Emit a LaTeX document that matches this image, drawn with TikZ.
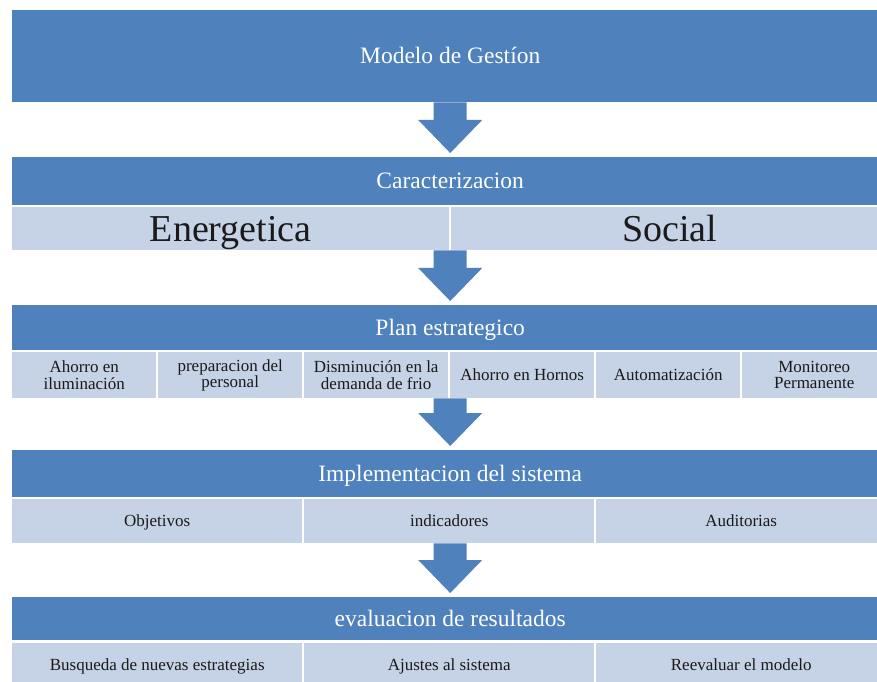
\documentclass[tikz,border=0pt]{standalone}
\usepackage{fontspec}
\setmainfont{Liberation Serif}
\usetikzlibrary{calc}
\definecolor{hdrblue}{HTML}{4F81BD}
\definecolor{cellblue}{HTML}{C6D2E6}
\definecolor{celltext}{HTML}{1A1A1A}
\tikzset{
  x=1pt, y=1pt,
  hdr/.style={fill=hdrblue, text=white, inner sep=0pt, anchor=north west, minimum width=876pt,
    font=\fontsize{23.5}{25}\selectfont, text height=15.6pt, text depth=0pt},
  cellbase/.style={fill=cellblue, text=celltext, inner sep=0pt, anchor=north west, align=center,
    font=\fontsize{17}{16.5}\selectfont},
  cell/.style={cellbase, text height=11.3pt, text depth=0pt},
  bigcell/.style={cellbase, font=\fontsize{38}{40}\selectfont, text height=25.2pt, text depth=0pt},
}
\newcommand\blockarrow[2]{%
  \fill[hdrblue] let \p1=(#1.south), \p2=(#2.north) in
    (\x2-16.5pt,\y1) -- (\x2+16.5pt,\y1) -- (\x2+16.5pt,\y2+37pt) -- (\x2+32pt,\y2+37pt)
    -- (\x2,\y2+4pt) -- (\x2-32pt,\y2+37pt) -- (\x2-16.5pt,\y2+37pt) -- cycle;}
\begin{document}
\begin{tikzpicture}
\clip (0,0) rectangle (877,681);
\fill[white] (0,0) rectangle (877,681);
% level 1
\node[hdr, minimum height=92pt] (m) at (12,671) {Modelo de Gestíon};
% level 2
\node[hdr, minimum height=48pt] (c) at (12,524) {Caracterizacion};
\node[bigcell, minimum width=437pt, minimum height=43pt] (c1) at (12,474) {Energetica};
\node[bigcell, minimum width=437pt, minimum height=43pt] (c2) at (451,474) {Social};
% level 3
\node[hdr, minimum height=45pt] (p) at (12,376) {Plan estrategico};
\node[cellbase, minimum width=144pt, minimum height=46pt] (p1) at (12,329) {Ahorro en\\iluminación};
\node[cellbase, minimum width=144pt, minimum height=46pt] (p2) at (158,329) {preparacion del\\personal};
\node[cellbase, minimum width=144pt, minimum height=46pt] (p3) at (304,329) {Disminución en la\\demanda de frio};
\node[cell, minimum width=144pt, minimum height=46pt] (p4) at (450,329) {Ahorro en Hornos};
\node[cell, minimum width=144pt, minimum height=46pt] (p5) at (596,329) {Automatización};
\node[cellbase, minimum width=144pt, minimum height=46pt] (p6) at (742,329) {Monitoreo\\Permanente};
% level 4
\node[hdr, minimum height=47pt] (i) at (12,231) {Implementacion del sistema};
\node[cell, minimum width=290pt, minimum height=44pt] (i1) at (12,182) {Objetivos};
\node[cell, minimum width=290pt, minimum height=44pt] (i2) at (304,182) {indicadores};
\node[cell, minimum width=290pt, minimum height=44pt] (i3) at (596,182) {Auditorias};
% level 5
\node[hdr, minimum height=43pt] (e) at (12,84) {evaluacion de resultados};
\node[cell, minimum width=290pt, minimum height=43pt] (e1) at (12,38) {Busqueda de nuevas estrategias};
\node[cell, minimum width=290pt, minimum height=43pt] (e2) at (304,38) {Ajustes al sistema};
\node[cell, minimum width=290pt, minimum height=43pt] (e3) at (596,38) {Reevaluar el modelo};
% arrows
\blockarrow{m}{c}
\blockarrow{c1}{p}
\blockarrow{p1}{i}
\blockarrow{i1}{e}
\end{tikzpicture}
\end{document}
